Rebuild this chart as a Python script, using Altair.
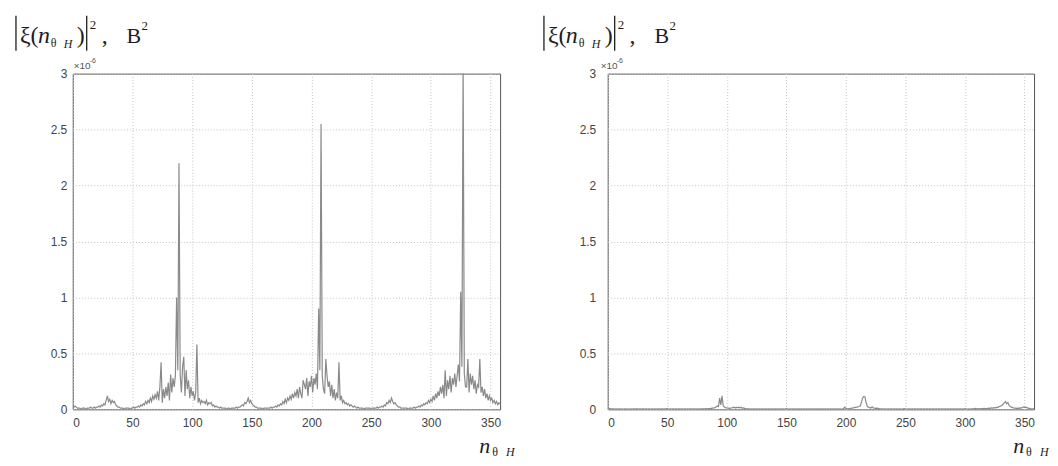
import altair as alt
import pandas as pd

# ---------------- data (values in units of 1e-6 V^2) ----------------
n_theta = list(range(0, 359))

power_before = [
    0.03, 0.02, 0.03, 0.02, 0.01, 0.01, 0.01, 0.00, 0.01, 0.01,
    0.01, 0.00, 0.01, 0.01, 0.01, 0.02, 0.01, 0.01, 0.02, 0.01,
    0.02, 0.02, 0.03, 0.02, 0.04, 0.03, 0.05, 0.04, 0.08, 0.12,
    0.07, 0.09, 0.05, 0.08, 0.06, 0.07, 0.04, 0.03, 0.02, 0.02,
    0.01, 0.01, 0.01, 0.00, 0.01, 0.01, 0.01, 0.01, 0.00, 0.01,
    0.01, 0.02, 0.01, 0.02, 0.02, 0.03, 0.02, 0.04, 0.03, 0.05,
    0.04, 0.07, 0.05, 0.08, 0.06, 0.10, 0.07, 0.12, 0.09, 0.13,
    0.10, 0.16, 0.08, 0.20, 0.42, 0.06, 0.18, 0.10, 0.20, 0.12,
    0.24, 0.08, 0.31, 0.15, 0.28, 0.20, 0.30, 1.00, 0.35, 2.20,
    0.30, 0.15, 0.38, 0.47, 0.12, 0.35, 0.18, 0.26, 0.10, 0.20,
    0.12, 0.16, 0.08, 0.15, 0.58, 0.06, 0.10, 0.05, 0.08, 0.06,
    0.07, 0.05, 0.08, 0.04, 0.06, 0.05, 0.06, 0.03, 0.04, 0.02,
    0.03, 0.02, 0.02, 0.01, 0.02, 0.01, 0.01, 0.01, 0.01, 0.00,
    0.01, 0.01, 0.00, 0.01, 0.01, 0.01, 0.01, 0.02, 0.01, 0.02,
    0.02, 0.03, 0.04, 0.03, 0.06, 0.05, 0.07, 0.10, 0.06, 0.08,
    0.05, 0.04, 0.03, 0.02, 0.02, 0.01, 0.01, 0.01, 0.01, 0.00,
    0.01, 0.01, 0.01, 0.01, 0.01, 0.01, 0.02, 0.01, 0.02, 0.02,
    0.03, 0.02, 0.04, 0.03, 0.05, 0.04, 0.07, 0.05, 0.09, 0.06,
    0.10, 0.08, 0.12, 0.09, 0.14, 0.10, 0.15, 0.12, 0.18, 0.10,
    0.20, 0.14, 0.10, 0.26, 0.22, 0.18, 0.28, 0.12, 0.25, 0.20,
    0.30, 0.15, 0.28, 0.22, 0.32, 0.18, 0.90, 0.35, 2.55, 0.30,
    0.18, 0.14, 0.45, 0.30, 0.20, 0.25, 0.12, 0.22, 0.10, 0.18,
    0.08, 0.15, 0.10, 0.42, 0.08, 0.12, 0.06, 0.08, 0.05, 0.06,
    0.04, 0.05, 0.03, 0.04, 0.03, 0.02, 0.03, 0.02, 0.01, 0.02,
    0.01, 0.01, 0.01, 0.01, 0.00, 0.01, 0.01, 0.01, 0.01, 0.01,
    0.00, 0.01, 0.01, 0.01, 0.01, 0.02, 0.01, 0.02, 0.02, 0.03,
    0.02, 0.04, 0.03, 0.06, 0.05, 0.08, 0.06, 0.10, 0.07, 0.05,
    0.06, 0.04, 0.03, 0.02, 0.02, 0.01, 0.01, 0.01, 0.01, 0.01,
    0.01, 0.00, 0.01, 0.01, 0.01, 0.01, 0.02, 0.01, 0.02, 0.02,
    0.03, 0.02, 0.04, 0.03, 0.05, 0.04, 0.06, 0.05, 0.08, 0.06,
    0.09, 0.07, 0.12, 0.08, 0.14, 0.10, 0.16, 0.12, 0.20, 0.14,
    0.22, 0.10, 0.35, 0.12, 0.26, 0.18, 0.30, 0.15, 0.28, 0.22,
    0.32, 0.20, 0.30, 0.40, 0.25, 1.05, 0.38, 3.10, 0.32, 0.20,
    0.20, 0.45, 0.15, 0.32, 0.22, 0.30, 0.18, 0.26, 0.14, 0.22,
    0.20, 0.45, 0.15, 0.20, 0.12, 0.18, 0.10, 0.14, 0.08, 0.12,
    0.08, 0.10, 0.06, 0.08, 0.05, 0.07, 0.04, 0.06, 0.05,
]

power_after = [
    0.010, 0.008, 0.006, 0.005, 0.004, 0.004, 0.003, 0.004, 0.003, 0.004,
    0.003, 0.004, 0.003, 0.003, 0.004, 0.003, 0.004, 0.003, 0.003, 0.004,
    0.003, 0.004, 0.003, 0.004, 0.005, 0.004, 0.003, 0.004, 0.003, 0.004,
    0.004, 0.003, 0.004, 0.003, 0.004, 0.003, 0.003, 0.004, 0.003, 0.004,
    0.003, 0.004, 0.003, 0.004, 0.003, 0.004, 0.004, 0.003, 0.004, 0.005,
    0.006, 0.004, 0.003, 0.004, 0.003, 0.004, 0.003, 0.004, 0.003, 0.004,
    0.003, 0.004, 0.003, 0.004, 0.003, 0.004, 0.003, 0.004, 0.003, 0.004,
    0.004, 0.003, 0.004, 0.003, 0.004, 0.003, 0.004, 0.003, 0.004, 0.004,
    0.004, 0.005, 0.004, 0.006, 0.005, 0.007, 0.006, 0.008, 0.010, 0.012,
    0.015, 0.020, 0.030, 0.025, 0.100, 0.040, 0.120, 0.030, 0.020, 0.015,
    0.012, 0.010, 0.008, 0.010, 0.012, 0.015, 0.020, 0.012, 0.018, 0.015,
    0.020, 0.012, 0.018, 0.010, 0.012, 0.008, 0.006, 0.005, 0.004, 0.004,
    0.003, 0.004, 0.003, 0.004, 0.003, 0.004, 0.003, 0.004, 0.003, 0.004,
    0.003, 0.004, 0.003, 0.004, 0.003, 0.004, 0.003, 0.004, 0.003, 0.004,
    0.003, 0.004, 0.003, 0.004, 0.003, 0.004, 0.003, 0.004, 0.003, 0.004,
    0.006, 0.004, 0.003, 0.004, 0.003, 0.004, 0.003, 0.004, 0.003, 0.004,
    0.003, 0.004, 0.003, 0.004, 0.003, 0.004, 0.003, 0.004, 0.003, 0.004,
    0.003, 0.004, 0.003, 0.004, 0.003, 0.004, 0.003, 0.004, 0.003, 0.004,
    0.003, 0.004, 0.003, 0.004, 0.003, 0.004, 0.003, 0.004, 0.003, 0.004,
    0.003, 0.004, 0.003, 0.004, 0.003, 0.004, 0.003, 0.004, 0.006, 0.020,
    0.008, 0.005, 0.004, 0.006, 0.008, 0.010, 0.012, 0.015, 0.018, 0.020,
    0.022, 0.025, 0.030, 0.060, 0.100, 0.115, 0.110, 0.060, 0.025, 0.020,
    0.015, 0.012, 0.022, 0.012, 0.010, 0.008, 0.010, 0.008, 0.006, 0.005,
    0.004, 0.003, 0.004, 0.003, 0.004, 0.003, 0.004, 0.003, 0.004, 0.003,
    0.004, 0.003, 0.004, 0.003, 0.004, 0.003, 0.004, 0.003, 0.004, 0.006,
    0.004, 0.003, 0.004, 0.003, 0.004, 0.003, 0.004, 0.003, 0.004, 0.003,
    0.004, 0.003, 0.004, 0.003, 0.004, 0.003, 0.004, 0.003, 0.004, 0.003,
    0.004, 0.003, 0.004, 0.003, 0.004, 0.003, 0.004, 0.003, 0.004, 0.003,
    0.004, 0.003, 0.004, 0.003, 0.004, 0.003, 0.004, 0.003, 0.004, 0.003,
    0.004, 0.003, 0.004, 0.003, 0.004, 0.003, 0.004, 0.003, 0.004, 0.003,
    0.006, 0.004, 0.003, 0.004, 0.003, 0.004, 0.005, 0.004, 0.006, 0.008,
    0.004, 0.005, 0.006, 0.005, 0.007, 0.006, 0.008, 0.006, 0.007, 0.008,
    0.010, 0.008, 0.012, 0.010, 0.015, 0.012, 0.018, 0.015, 0.020, 0.025,
    0.030, 0.035, 0.045, 0.060, 0.070, 0.050, 0.060, 0.035, 0.025, 0.020,
    0.015, 0.012, 0.010, 0.008, 0.010, 0.008, 0.012, 0.010, 0.015, 0.022,
    0.018, 0.020, 0.015, 0.010, 0.008, 0.006, 0.005, 0.004, 0.004,
]

x_ticks = [0, 50, 100, 150, 200, 250, 300, 350]
y_ticks = [0, 0.5, 1, 1.5, 2, 2.5, 3]

SERIF = "Liberation Serif"
SANS = "Liberation Sans"
INK = "#1e1e1e"

one_row = pd.DataFrame({"k": [0]})


def txt(s, x, y, size, style="normal", font=SERIF, color=INK):
    return alt.Chart(one_row).mark_text(
        text=s, font=font, fontSize=size, fontStyle=style,
        align="left", baseline="alphabetic", color=color,
    ).encode(x=alt.value(x), y=alt.value(y))


def vbar(x, y1, y2):
    return alt.Chart(one_row).mark_rule(color=INK, strokeWidth=1.3).encode(
        x=alt.value(x), y=alt.value(y1), y2=alt.value(y2)
    )


def panel(values, W, H, tx, label_pad, exp_dx):
    df = pd.DataFrame({"n": n_theta, "p": values})
    line = alt.Chart(df).mark_line(color="#8a8a8a", strokeWidth=1.2, clip=True).encode(
        x=alt.X("n:Q",
                scale=alt.Scale(domain=[0, 358], nice=False, zero=False),
                axis=alt.Axis(values=x_ticks, title=None, labelPadding=8)),
        y=alt.Y("p:Q",
                scale=alt.Scale(domain=[0, 3], nice=False),
                axis=alt.Axis(values=y_ticks, title=None,
                              labelExpr="'' + datum.value",
                              labelPadding=label_pad)),
    )
    ty = 4  # vertical shift of the title relative to the plot
    layers = [
        line,
        # |ξ(n_θH)|², B²
        vbar(tx, -62 + ty, -27 + ty),
        txt("ξ(", tx + 4, -35 + ty, 24),
        txt("n", tx + 22, -35 + ty, 24, "italic"),
        txt("θ", tx + 35, -31 + ty, 12),
        txt("H", tx + 48, -30 + ty, 12, "italic"),
        txt(")", tx + 61, -35 + ty, 24),
        vbar(tx + 71, -62 + ty, -27 + ty),
        txt("2", tx + 74, -49 + ty, 13),
        txt(",", tx + 86, -35 + ty, 24),
        txt("B", tx + 111, -35 + ty, 22),
        txt("2", tx + 126, -48 + ty, 13),
        # ×10^-6
        txt("×10", exp_dx, -5, 10, font=SANS, color="#555555"),
        txt("-6", exp_dx + 16, -11, 7, font=SANS, color="#555555"),
        # x label n_θH
        txt("n", W - 21, H + 44, 22, "italic"),
        txt("θ", W - 8, H + 47, 12),
        txt("H", W + 6, H + 47, 12, "italic"),
    ]
    return alt.layer(*layers).properties(width=W, height=H)


left = panel(power_before, 429, 337, -57, 6, 1)
right = panel(power_after, 428, 337, -64, 12, -7)

chart = (
    alt.hconcat(left, right, spacing=26)
    .properties(padding={"left": 6, "top": 5, "right": 0, "bottom": 0},
                background="white")
    .configure_view(stroke="#555555", strokeWidth=1)
    .configure_axis(
        grid=True, gridColor="#c4c4c4", gridDash=[1, 2], gridWidth=1,
        domain=False, ticks=False,
        labelFont=SANS, labelFontSize=12, labelColor="#444444",
    )
)

chart.save("out.html", embed_options={"renderer": "svg", "actions": False})
